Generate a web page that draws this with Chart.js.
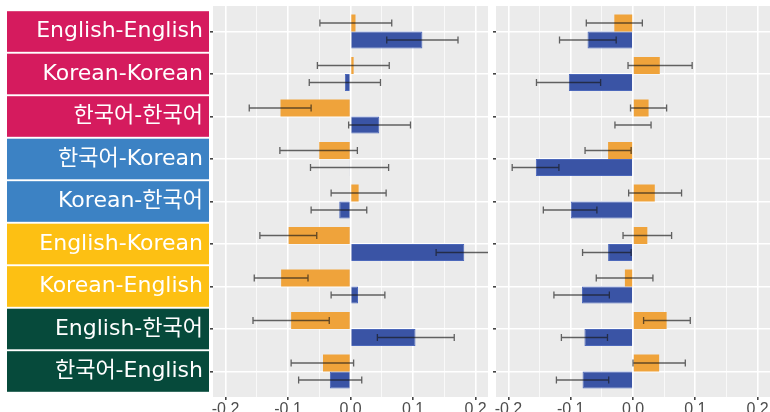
<!DOCTYPE html>
<html>
<head>
<meta charset="utf-8">
<script src="https://cdn.jsdelivr.net/npm/chart.js@4"></script>
<style>
    body { margin: 0; background: #ffffff; }
    #wrap { position: relative; width: 770px; height: 412px; overflow: hidden; }
    #leftChart { position: absolute; left: 0; top: 0; }
    #rightChart { position: absolute; left: 490px; top: 0; }
</style>
</head>
<body>
<div id="wrap">
    <canvas id="leftChart" width="492" height="412"></canvas>
    <canvas id="rightChart" width="280" height="412"></canvas>
</div>
<script>
// Row labels (top to bottom) and their box colours
const rows = [
    "English-English", "Korean-Korean", "한국어-한국어",
    "한국어-Korean", "Korean-한국어",
    "English-Korean", "Korean-English",
    "English-한국어", "한국어-English"
];
const rowColors = [
    "#D51B5E", "#D51B5E", "#D51B5E",
    "#3C82C4", "#3C82C4",
    "#FDC013", "#FDC013",
    "#064A3B", "#064A3B"
];

// Left panel
const leftOrange   = [0.008, 0.005, -0.112, -0.050, 0.013, -0.099, -0.111, -0.095, -0.044];
const leftOrangeLo = [-0.049, -0.053, -0.162, -0.113, -0.031, -0.145, -0.154, -0.156, -0.095];
const leftOrangeHi = [0.066, 0.062, -0.063, 0.011, 0.057, -0.054, -0.068, -0.034, 0.005];
const leftBlue     = [0.115, -0.009, 0.046, -0.001, -0.018, 0.182, 0.012, 0.104, -0.033];
const leftBlueLo   = [0.058, -0.066, -0.003, -0.064, -0.063, 0.137, -0.031, 0.043, -0.083];
const leftBlueHi   = [0.172, 0.048, 0.096, 0.061, 0.026, 0.230, 0.055, 0.166, 0.018];

// Right panel
const rightOrange   = [-0.030, 0.043, 0.025, -0.040, 0.035, 0.023, -0.013, 0.054, 0.042];
const rightOrangeLo = [-0.075, -0.008, -0.004, -0.077, -0.007, -0.016, -0.059, 0.017, 0.000];
const rightOrangeHi = [0.015, 0.095, 0.054, -0.003, 0.078, 0.062, 0.032, 0.092, 0.084];
const rightBlue     = [-0.073, -0.103, 0.000, -0.156, -0.100, -0.040, -0.082, -0.078, -0.081];
const rightBlueLo   = [-0.118, -0.155, -0.029, -0.194, -0.144, -0.081, -0.127, -0.115, -0.123];
const rightBlueHi   = [-0.027, -0.052, 0.029, -0.119, -0.058, -0.003, -0.038, -0.041, -0.039];

const xMin = -0.22;
const xMax = 0.22;

function isMajor(v) {
    return Math.abs(v * 10 - Math.round(v * 10)) < 1e-6;
}

// grey panel background
const panelBg = {
    id: "panelBg",
    beforeDraw(chart) {
        const { ctx, chartArea: a } = chart;
        ctx.save();
        ctx.fillStyle = "#EBEBEB";
        ctx.fillRect(a.left, a.top, a.right - a.left, a.bottom - a.top);
        ctx.restore();
    }
};

// coloured label boxes behind the y tick labels
const labelBoxes = {
    id: "labelBoxes",
    beforeDraw(chart) {
        const { ctx } = chart;
        const y = chart.scales.y;
        ctx.save();
        rows.forEach((name, i) => {
            const py = y.getPixelForValue(i + 1);
            ctx.fillStyle = rowColors[i];
            ctx.fillRect(7, py - 20.3, 202, 40.6);
        });
        ctx.restore();
    }
};

// error bars from each dataset's lo / hi arrays
const errorBars = {
    id: "errorBars",
    afterDatasetsDraw(chart) {
        const { ctx, chartArea: a } = chart;
        const x = chart.scales.x;
        ctx.save();
        ctx.beginPath();
        ctx.rect(a.left, a.top, a.right - a.left, a.bottom - a.top);
        ctx.clip();
        ctx.strokeStyle = "rgba(25,25,25,0.66)";
        ctx.lineWidth = 1.3;
        chart.data.datasets.forEach((ds, di) => {
            const meta = chart.getDatasetMeta(di);
            meta.data.forEach((bar, i) => {
                const x1 = x.getPixelForValue(ds.errLo[i]);
                const x2 = x.getPixelForValue(ds.errHi[i]);
                const yy = bar.y;
                ctx.beginPath();
                ctx.moveTo(x1, yy);
                ctx.lineTo(x2, yy);
                ctx.moveTo(x1, yy - 3.5);
                ctx.lineTo(x1, yy + 3.5);
                ctx.moveTo(x2, yy - 3.5);
                ctx.lineTo(x2, yy + 3.5);
                ctx.stroke();
            });
        });
        ctx.restore();
    }
};

function makeChart(id, orange, orangeLo, orangeHi, blue, blueLo, blueHi, showLabels) {
    const ctx = document.getElementById(id).getContext("2d");
    return new Chart(ctx, {
        type: "bar",
        data: {
            datasets: [{
                data: orange.map((v, i) => ({ x: v, y: i + 1 })),
                errLo: orangeLo,
                errHi: orangeHi,
                backgroundColor: "#EFA33B",
                borderWidth: 0
            }, {
                data: blue.map((v, i) => ({ x: v, y: i + 1 })),
                errLo: blueLo,
                errHi: blueHi,
                backgroundColor: "#3A54A5",
                borderColor: "#4C68BB",
                borderWidth: 1
            }]
        },
        options: {
            indexAxis: "y",
            responsive: false,
            animation: false,
            devicePixelRatio: 1,
            categoryPercentage: 0.8,
            barPercentage: 1.0,
            layout: { padding: { top: 6, left: 0, right: showLabels ? 4 : 0, bottom: 0 } },
            plugins: {
                legend: { display: false },
                tooltip: { enabled: false }
            },
            scales: {
                x: {
                    type: "linear",
                    min: xMin,
                    max: xMax,
                    afterFit(s) {
                        s.height = 15;
                        s.paddingLeft = 0;
                        s.paddingRight = 0;
                    },
                    border: { display: false },
                    grid: {
                        color: "#FFFFFF",
                        lineWidth: c => isMajor(c.tick.value) ? 1.6 : 0.7,
                        tickColor: c => isMajor(c.tick.value) ? "#444444" : "rgba(0,0,0,0)",
                        tickLength: 3
                    },
                    ticks: {
                        stepSize: 0.05,
                        includeBounds: false,
                        autoSkip: false,
                        maxRotation: 0,
                        padding: 0,
                        color: "#4D4D4D",
                        font: { family: "'Liberation Sans', Arial, sans-serif", size: 16 },
                        callback: v => isMajor(v) ? (Math.round(v * 10) / 10).toFixed(1) : ""
                    }
                },
                y: {
                    type: "linear",
                    reverse: true,
                    offset: false,
                    min: 0.4,
                    max: 9.6,
                    afterBuildTicks(s) { s.ticks = rows.map((_, i) => ({ value: i + 1 })); },
                    afterFit(s) {
                        s.width = showLabels ? 213 : 6;
                        s.paddingTop = 0;
                        s.paddingBottom = 0;
                    },
                    border: { display: false },
                    grid: {
                        offset: false,
                        color: "#FFFFFF",
                        lineWidth: 1.6,
                        tickColor: "#444444",
                        tickLength: 3
                    },
                    ticks: {
                        display: showLabels,
                        autoSkip: false,
                        padding: 7,
                        color: "#FFFFFF",
                        font: { family: "'DejaVu Sans', 'Noto Sans CJK KR', sans-serif", size: 22 },
                        callback: v => rows[v - 1]
                    }
                }
            }
        },
        plugins: showLabels ? [panelBg, labelBoxes, errorBars] : [panelBg, errorBars]
    });
}

makeChart("leftChart", leftOrange, leftOrangeLo, leftOrangeHi, leftBlue, leftBlueLo, leftBlueHi, true);
makeChart("rightChart", rightOrange, rightOrangeLo, rightOrangeHi, rightBlue, rightBlueLo, rightBlueHi, false);
</script>
</body>
</html>
